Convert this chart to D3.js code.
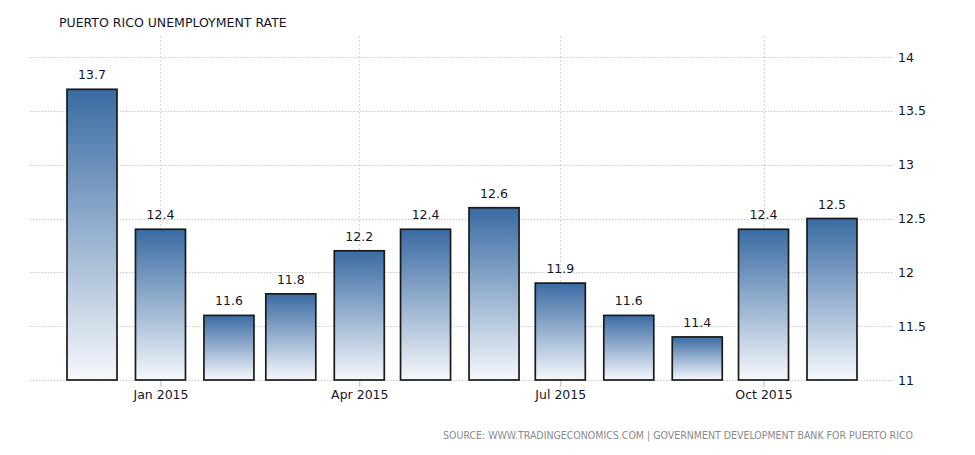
<!DOCTYPE html>
<html>
<head>
<meta charset="utf-8">
<script src="https://cdn.jsdelivr.net/npm/d3@7"></script>
<style>
  body { margin: 0; background: #fff; }
  svg { display: block; }
</style>
</head>
<body>
<div id="chart"></div>
<script>
// chart data
const months = ["2014-12", "2015-01", "2015-02", "2015-03", "2015-04", "2015-05",
                "2015-06", "2015-07", "2015-08", "2015-09", "2015-10", "2015-11"];
const rates = [13.7, 12.4, 11.6, 11.8, 12.2, 12.4, 12.6, 11.9, 11.6, 11.4, 12.4, 12.5];
const yTicks = [11, 11.5, 12, 12.5, 13, 13.5, 14];
const xTickMonths = ["2015-01", "2015-04", "2015-07", "2015-10"];

const width = 975, height = 455;
const margin = {top: 57, right: 82, bottom: 75, left: 30};
const parse = d3.timeParse("%Y-%m");

let svg = d3.select("#chart").append("svg")
  .attr("width", width)
  .attr("height", height);

let defs = svg.append("defs");
let grad = defs.append("linearGradient")
  .attr("id", "barFill")
  .attr("x1", 0).attr("y1", 0).attr("x2", 0).attr("y2", 1);
grad.append("stop").attr("offset", "0%").attr("stop-color", "#3a6ba3");
grad.append("stop").attr("offset", "100%").attr("stop-color", "#f6f8fc");

let x = d3.scaleTime()
  .domain([parse("2014-12"), parse("2015-11")])
  .range([92, 832]);

let y = d3.scaleLinear()
  .domain([11, 14])
  .range([height - margin.bottom, margin.top]);

let plotRight = width - margin.right;

// title
svg.append("text")
  .attr("x", 59)
  .attr("y", 27)
  .style("font-family", "DejaVu Sans")
  .style("font-size", "12.5px")
  .style("fill", "#141428")
  .text("PUERTO RICO UNEMPLOYMENT RATE");

// horizontal grid
svg.append("g")
  .selectAll("line")
  .data(yTicks)
  .enter().append("line")
  .attr("x1", margin.left)
  .attr("x2", plotRight)
  .attr("y1", d => Math.round(y(d)) + 0.5)
  .attr("y2", d => Math.round(y(d)) + 0.5)
  .attr("stroke", "#c8c8c8")
  .attr("stroke-dasharray", "1.5,1.5");

// vertical grid
svg.append("g")
  .selectAll("line")
  .data(xTickMonths)
  .enter().append("line")
  .attr("x1", d => Math.round(x(parse(d))) + 0.5)
  .attr("x2", d => Math.round(x(parse(d))) + 0.5)
  .attr("y1", 36)
  .attr("y2", y(11))
  .attr("stroke", "#d4d4d4")
  .attr("stroke-dasharray", "2,2");

// x axis
let xAxis = d3.axisBottom(x)
  .tickValues(xTickMonths.map(parse))
  .tickFormat(d3.timeFormat("%b %Y"))
  .tickSize(7)
  .tickPadding(3);

let gx = svg.append("g")
  .attr("transform", "translate(0," + y(11) + ")")
  .call(xAxis);
gx.select(".domain").remove();
gx.selectAll(".tick line").attr("stroke", "#bbb");
gx.selectAll(".tick text")
  .style("font-family", "DejaVu Sans")
  .style("font-size", "12.5px")
  .style("fill", "#141428");

// y axis (right)
let yAxis = d3.axisRight(y)
  .tickValues(yTicks)
  .tickFormat(d3.format("~g"))
  .tickSize(0)
  .tickPadding(5);

let gy = svg.append("g")
  .attr("transform", "translate(" + plotRight + ",0)")
  .call(yAxis);
gy.select(".domain").remove();
gy.selectAll(".tick text")
  .style("font-family", "DejaVu Sans")
  .style("font-size", "12.5px")
  .style("fill", "#141428");

// bars
const barW = 50;
let data = months.map((m, i) => ({date: parse(m), value: rates[i]}));

svg.append("g")
  .selectAll("rect")
  .data(data)
  .enter().append("rect")
  .attr("x", d => x(d.date) - barW / 2)
  .attr("y", d => y(d.value))
  .attr("width", barW)
  .attr("height", d => y(11) - y(d.value))
  .attr("fill", "url(#barFill)")
  .attr("stroke", "#1a1a1a")
  .attr("stroke-width", 1.7);

// value labels
svg.append("g")
  .selectAll("text")
  .data(data)
  .enter().append("text")
  .attr("x", d => x(d.date))
  .attr("y", d => y(d.value) - 10)
  .attr("text-anchor", "middle")
  .style("font-family", "DejaVu Sans")
  .style("font-size", "12.5px")
  .style("fill", "#141428")
  .text(d => d.value.toFixed(1));

// source
svg.append("text")
  .attr("x", 913)
  .attr("y", 439)
  .attr("text-anchor", "end")
  .style("font-family", "DejaVu Sans Condensed")
  .style("font-size", "10.5px")
  .style("fill", "#8a8a8a")
  .text("SOURCE: WWW.TRADINGECONOMICS.COM | GOVERNMENT DEVELOPMENT BANK FOR PUERTO RICO");
</script>
</body>
</html>
